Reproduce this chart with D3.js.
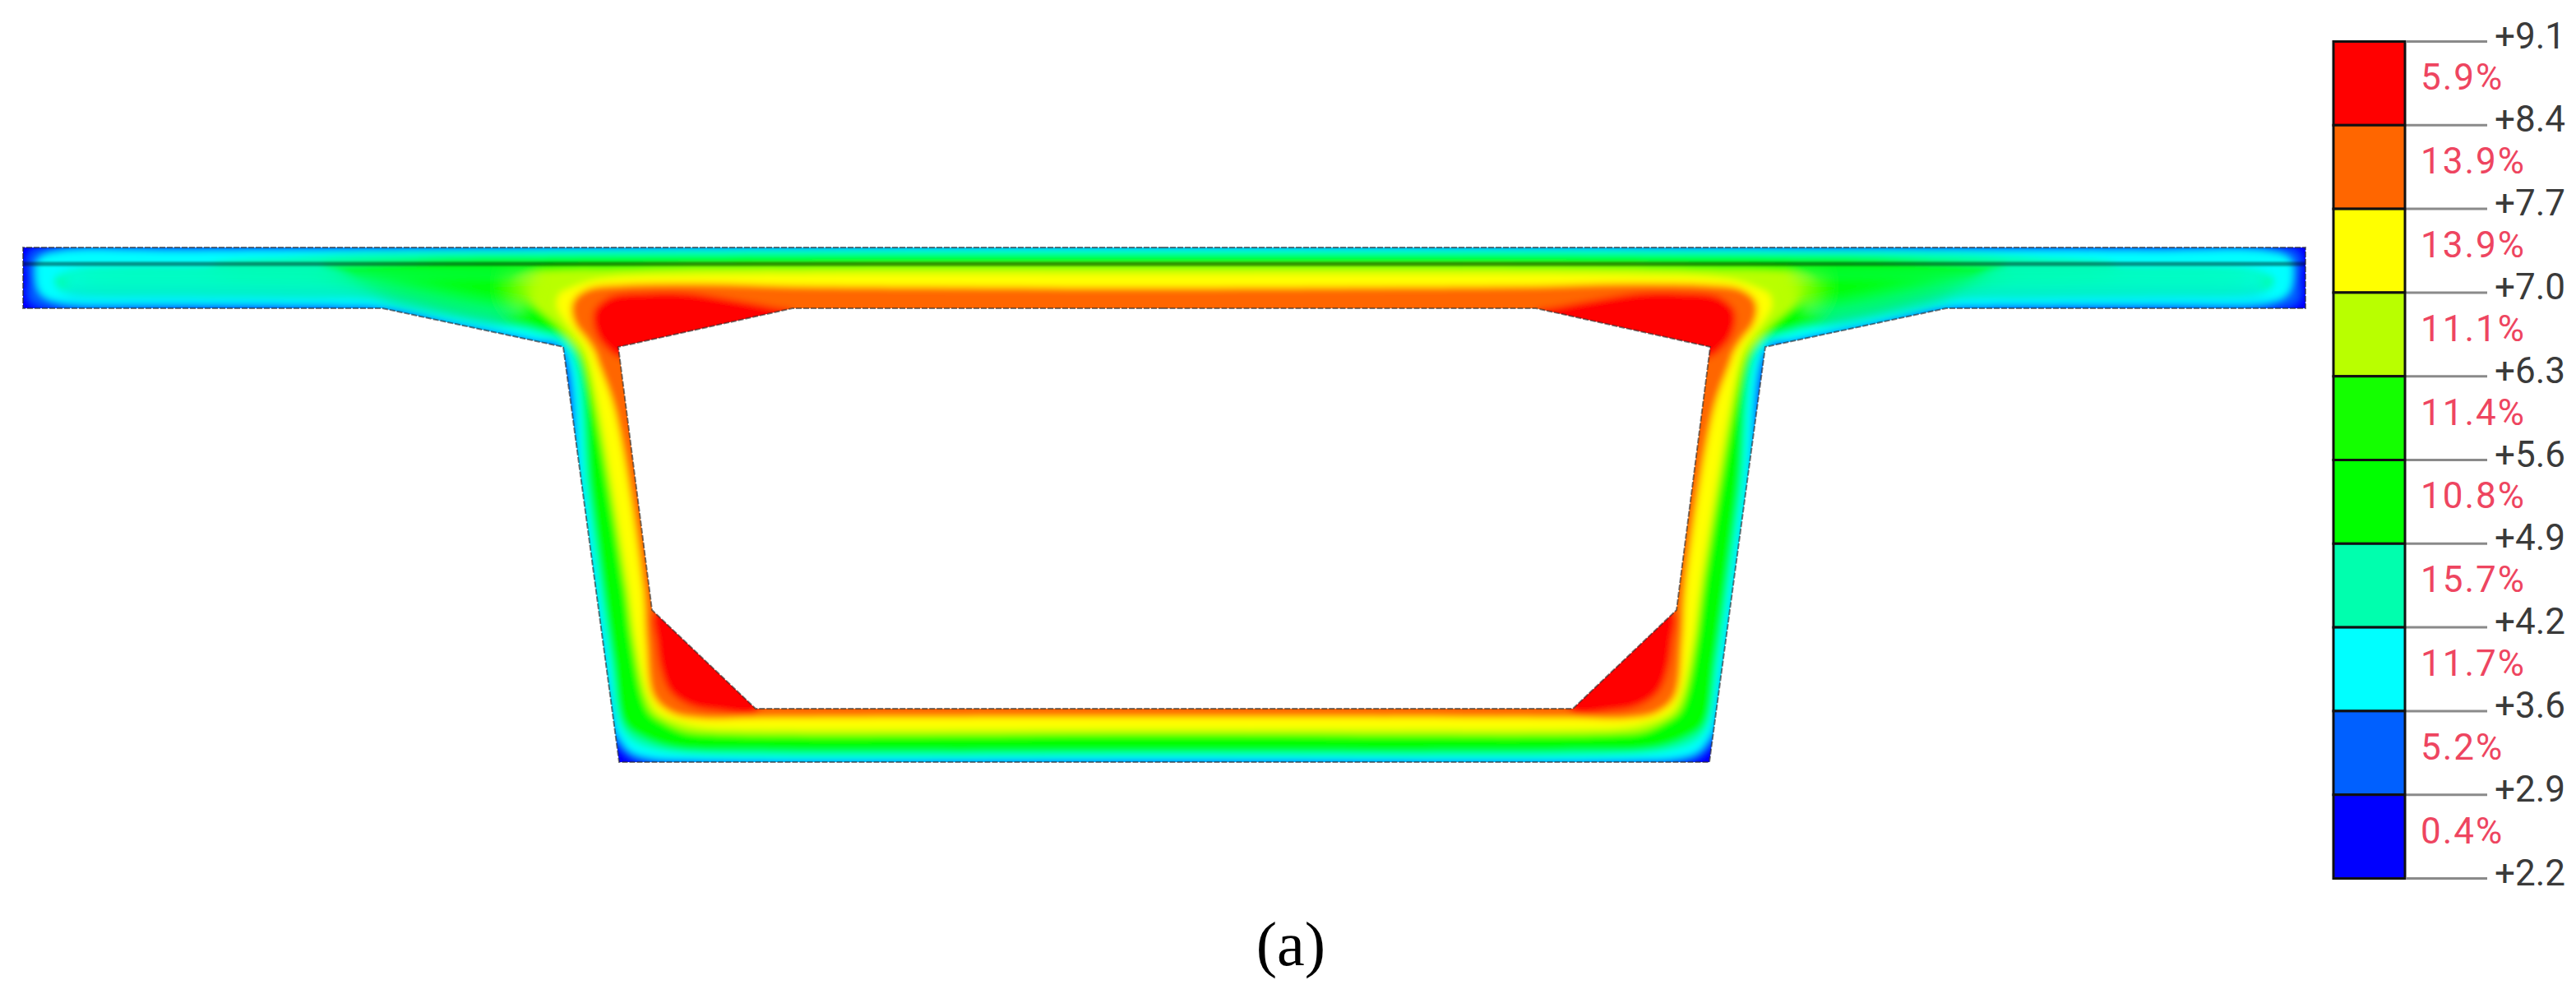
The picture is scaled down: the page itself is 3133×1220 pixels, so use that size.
<!DOCTYPE html>
<html>
<head>
<meta charset="utf-8">
<script src="https://cdn.jsdelivr.net/npm/d3@7"></script>
<style>
  html, body { margin: 0; background: #fff; }
  svg { display: block; }
</style>
</head>
<body>
<svg id="chart"></svg>
<script>
// legend, top to bottom
const tickLabels = ["+9.1", "+8.4", "+7.7", "+7.0", "+6.3", "+5.6", "+4.9", "+4.2", "+3.6", "+2.9", "+2.2"];
const bandShares = ["5.9%", "13.9%", "13.9%", "11.1%", "11.4%", "10.8%", "15.7%", "11.7%", "5.2%", "0.4%"];
const bandColors = ["#ff0000", "#ff6600", "#ffff00", "#b9ff00", "#14ff00", "#00ff00", "#00ffae", "#00ffff", "#0060ff", "#0000ff"];

// half section, [distance from centreline, depth below deck]
const outerEdge = [[0, 0], [1388, 0], [1388, 74], [951, 74], [731, 121], [663, 626], [0, 626]];
const cavityEdge = [[0, 74], [452, 74], [664, 121], [623, 441], [497, 561], [0, 561]];
const seamDepth = 20;

// isotherms (same half section), one per legend level
const iso29 = [[0, -2], [700, -1], [1100, 1.5], [1350, 2], [1378, 8], [1379, 40], [1378, 64], [1350, 73], [960, 73], [735, 123], [734, 125], [676, 570], [670, 592], [655, 614], [635, 624], [560, 626], [0, 626]];
const iso36 = [[0, 0], [500, 1], [900, 3], [1200, 4.5], [1340, 5], [1368, 14], [1372, 35], [1366, 56], [1345, 66], [1200, 69], [1000, 71], [951, 73], [866, 92], [766, 113], [733, 121], [710, 300], [682, 500], [668, 585], [664, 594], [650, 612], [628, 620], [560, 624], [0, 624]];
const iso42 = [[0, 4], [766, 5], [966, 7], [1060, 12], [1150, 18], [1160, 21.5], [1250, 23], [1320, 27], [1350, 38], [1345, 50], [1320, 56], [1200, 58], [1050, 60], [966, 62], [933, 71], [866, 85], [766, 104], [726, 121], [702, 300], [674, 500], [660, 585], [645, 602], [620, 611], [560, 617], [0, 618]];
const iso49 = [[0, 9], [766, 11], [866, 12.5], [933, 16], [1000, 19.5], [1025, 22], [1005, 30], [995, 36], [980, 45], [945, 58], [905, 68], [866, 78], [800, 92], [766, 98], [721, 121], [698, 300], [671, 500], [657, 580], [632, 598], [593, 610], [500, 613], [0, 614]];
const iso63 = [[0, 24], [566, 25], [666, 27], [733, 28], [766, 31], [789, 44], [776, 61], [759, 77], [739, 94], [724, 111], [711, 127], [705, 140], [692, 199], [656, 412], [647, 479], [634, 546], [625, 566], [611, 576], [585, 588], [543, 592], [0, 592]];
const iso70 = [[0, 32], [566, 33], [666, 36], [699, 41], [726, 51], [736, 57], [739, 71], [731, 87], [718, 104], [706, 121], [700, 137], [687, 199], [652, 412], [643, 479], [628, 546], [615, 566], [590, 577], [558, 584], [509, 586], [0, 586]];
const iso77 = [[0, 49], [300, 48], [452, 47], [566, 44], [666, 46], [699, 50], [716, 61], [721, 74], [716, 94], [703, 111], [693, 127], [688, 141], [668, 199], [634, 412], [630, 479], [621, 546], [599, 566], [563, 573], [493, 572], [0, 571]];
const hotDeck = [[452, 78], [478, 72], [510, 66], [545, 60], [580, 55], [633, 55], [672, 59], [692, 74], [695, 87], [690, 107], [680, 121], [660, 135], [560, 130]];
const hotFloor = [[621, 446], [618, 479], [613, 512], [601, 541], [576, 558], [543, 564], [495, 564], [499, 500], [600, 430]];

// deck wing, below the seam, where the colours change slowly
const wingZone = [[762, 30], [1335, 27], [1335, 58], [965, 58], [815, 92], [775, 80]];

const isotherms = [
  { level: 2.9, pts: iso29 }, { level: 3.6, pts: iso36 }, { level: 4.2, pts: iso42 }, { level: 4.9, pts: iso49 },
  { level: 6.3, pts: iso63 }, { level: 7.0, pts: iso70 }, { level: 7.7, pts: iso77 }
];

const width = 3133, height = 1220;
const svg = d3.select("#chart").attr("width", width).attr("height", height);

const xLeft = d3.scaleLinear().domain([0, 1388]).range([1416, 28]);
const xRight = d3.scaleLinear().domain([0, 1388]).range([1416, 2804]);
const yDepth = d3.scaleLinear().domain([0, 626]).range([301, 927]);

const tempColor = d3.scaleThreshold()
  .domain([2.9, 3.6, 4.2, 4.9, 5.6, 6.3, 7.0, 7.7, 8.4])
  .range(bandColors.slice().reverse());

const smooth = d3.line().curve(d3.curveCatmullRomClosed.alpha(0.5));
const straight = d3.line();

// mirror a half outline into a closed ring
const mirrored = half => half.map(p => [xLeft(p[0]), yDepth(p[1])])
  .concat(half.slice().reverse().filter(p => p[0] > 0).map(p => [xRight(p[0]), yDepth(p[1])]));
const onSide = (pts, x) => pts.map(p => [x(p[0]), yDepth(p[1])]);

const defs = svg.append("defs");
const blur = (id, sd) => defs.append("filter").attr("id", id)
  .attr("filterUnits", "userSpaceOnUse")
  .attr("x", 0).attr("y", 0).attr("width", width).attr("height", height)
  .append("feGaussianBlur").attr("stdDeviation", sd);
blur("soften", 4.5);
blur("soften-wide", 16);
blur("soften-zone", 9);
blur("soften-seam", 1.2);

// section = outer ring with the cavity cut out
const sectionPath = straight(mirrored(outerEdge)) + "Z" + straight(mirrored(cavityEdge)) + "Z";
defs.append("clipPath").attr("id", "section")
  .append("path").attr("d", sectionPath).attr("clip-rule", "evenodd");

const wingMask = defs.append("mask").attr("id", "wings")
  .attr("maskUnits", "userSpaceOnUse")
  .attr("x", 0).attr("y", 0).attr("width", width).attr("height", height);
[xLeft, xRight].forEach(x => {
  wingMask.append("path")
    .attr("d", straight(onSide(wingZone, x)) + "Z")
    .attr("fill", "#fff")
    .attr("filter", "url(#soften-zone)");
});

function drawBands(g) {
  g.append("rect")
    .attr("x", 0).attr("y", 200).attr("width", 2900).attr("height", 800)
    .attr("fill", tempColor(2.2));

  g.selectAll("path.iso")
    .data(isotherms)
    .join("path")
    .attr("class", "iso")
    .attr("fill", d => tempColor(d.level))
    .attr("d", d => smooth(mirrored(d.pts)));

  [xLeft, xRight].forEach(x => {
    [hotDeck, hotFloor].forEach(pts => {
      g.append("path")
        .attr("fill", tempColor(8.4))
        .attr("d", smooth(onSide(pts, x)));
    });
  });
}

const field = svg.append("g").attr("clip-path", "url(#section)");
drawBands(field.append("g").attr("filter", "url(#soften)"));
drawBands(field.append("g").attr("mask", "url(#wings)").append("g").attr("filter", "url(#soften-wide)"));

// dark seam between deck layers
field.append("line")
  .attr("x1", xLeft(1388)).attr("x2", xRight(1388))
  .attr("y1", yDepth(seamDepth)).attr("y2", yDepth(seamDepth))
  .attr("stroke", "#000").attr("stroke-opacity", 0.42).attr("stroke-width", 5)
  .attr("filter", "url(#soften-seam)");

svg.append("path")
  .attr("d", sectionPath)
  .attr("fill", "none")
  .attr("stroke", "#2a2a2a")
  .attr("stroke-opacity", 0.6)
  .attr("stroke-width", 2)
  .attr("stroke-dasharray", "7 2");

// legend
const legendY = d3.scaleLinear().domain([0, bandColors.length]).range([50.5, 1068.5]);
const legendX = [2838, 2925];
const legend = svg.append("g");

legend.selectAll("rect")
  .data(bandColors)
  .join("rect")
  .attr("x", legendX[0])
  .attr("width", legendX[1] - legendX[0])
  .attr("y", (d, i) => legendY(i))
  .attr("height", (d, i) => legendY(i + 1) - legendY(i))
  .attr("fill", d => d)
  .attr("stroke", "#111")
  .attr("stroke-width", 3);

legend.selectAll("line")
  .data(tickLabels)
  .join("line")
  .attr("x1", legendX[1] + 2).attr("x2", 3025)
  .attr("y1", (d, i) => legendY(i)).attr("y2", (d, i) => legendY(i))
  .attr("stroke", "#8a8a8a")
  .attr("stroke-width", 3);

legend.selectAll("text.tick")
  .data(tickLabels)
  .join("text")
  .attr("class", "tick")
  .attr("x", 3034)
  .attr("y", (d, i) => legendY(i) + 8)
  .attr("font-family", "Roboto")
  .attr("font-size", 44)
  .attr("fill", "#3a3a3a")
  .text(d => d);

legend.selectAll("text.share")
  .data(bandShares)
  .join("text")
  .attr("class", "share")
  .attr("x", 2944)
  .attr("y", (d, i) => (legendY(i) + legendY(i + 1)) / 2 + 8)
  .attr("font-family", "Roboto")
  .attr("font-size", 44)
  .attr("letter-spacing", 2)
  .attr("fill", "#ee4560")
  .text(d => d);

svg.append("text")
  .attr("x", 1570).attr("y", 1174)
  .attr("text-anchor", "middle")
  .attr("font-family", "Liberation Serif")
  .attr("font-size", 76)
  .attr("fill", "#000")
  .text("(a)");
</script>
</body>
</html>
